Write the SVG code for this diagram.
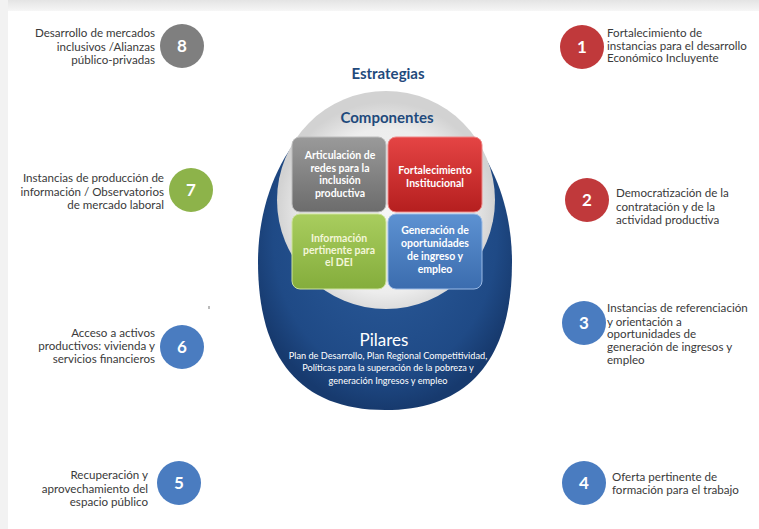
<svg xmlns="http://www.w3.org/2000/svg" width="759" height="529" viewBox="0 0 759 529">
<defs>
<style>
.lbl{font-family:Lato,"Liberation Sans",sans-serif;font-size:11.6px;fill:#3a3a3a}
.r{text-anchor:end}
.num{font-family:Lato,"Liberation Sans",sans-serif;font-weight:bold;font-size:17px;fill:#fff;text-anchor:middle}
.bx{font-family:Lato,"Liberation Sans",sans-serif;font-weight:bold;font-size:10.5px;fill:#fff;text-anchor:middle}
.hd{font-family:Lato,"Liberation Sans",sans-serif;font-weight:bold;font-size:15px;fill:#1f4a7c;text-anchor:middle}
.pl{font-family:Lato,"Liberation Sans",sans-serif;font-size:9.2px;fill:#fff;text-anchor:middle}
</style>
<linearGradient id="topband" x1="0" y1="0" x2="0" y2="1">
<stop offset="0" stop-color="#e4e4e4"/><stop offset="1" stop-color="#f6f6f6"/>
</linearGradient>
<radialGradient id="gBlue" cx="0.5" cy="0.45" r="0.55">
<stop offset="0" stop-color="#2c5c9c"/><stop offset="0.8" stop-color="#1f4a86"/><stop offset="1" stop-color="#173a6e"/>
</radialGradient>
<radialGradient id="gInner" cx="0.5" cy="0.55" r="0.5">
<stop offset="0" stop-color="#f6f6f6"/><stop offset="0.75" stop-color="#ededed"/><stop offset="1" stop-color="#d2d2d2"/>
</radialGradient>
<linearGradient id="gGray" x1="0" y1="0" x2="0" y2="1"><stop offset="0" stop-color="#9a9a9a"/><stop offset="1" stop-color="#6c6c6c"/></linearGradient>
<linearGradient id="gRed" x1="0" y1="0" x2="0" y2="1"><stop offset="0" stop-color="#e54444"/><stop offset="1" stop-color="#b51f1f"/></linearGradient>
<linearGradient id="gGreen" x1="0" y1="0" x2="0" y2="1"><stop offset="0" stop-color="#a9cd5e"/><stop offset="1" stop-color="#84ad3c"/></linearGradient>
<linearGradient id="gBlueBox" x1="0" y1="0" x2="0" y2="1"><stop offset="0" stop-color="#5d92d2"/><stop offset="1" stop-color="#3b6cae"/></linearGradient>
</defs>
<rect x="0" y="0" width="759" height="529" fill="#ffffff"/>
<rect x="0" y="0" width="759" height="11" fill="url(#topband)"/>
<rect x="0" y="0" width="8" height="529" fill="#f2f2f2"/>
<rect x="208" y="306" width="2" height="3" fill="#bbbbbb"/>

<g id="center">
<text class="hd" x="388" y="79">Estrategias</text>
<path d="M385,92 C455,92 512,168 512,262 C512,358 470,410 385,410 C300,410 258,358 258,262 C258,168 315,92 385,92 Z" fill="url(#gBlue)"/>
<circle cx="386" cy="200" r="109" fill="url(#gInner)"/>
<text class="hd" x="387" y="123">Componentes</text>
</g>

<g id="box-articulacion">
<rect x="292" y="137" width="94" height="75" rx="8" fill="url(#gGray)" stroke="#bdbdbd" stroke-width="1"/>
<text class="bx" x="340" y="159">Articulación de</text>
<text class="bx" x="340" y="171.5">redes para la</text>
<text class="bx" x="340" y="184">inclusión</text>
<text class="bx" x="340" y="196.5">productiva</text>
</g>
<g id="box-fortalecimiento">
<rect x="388" y="137" width="94" height="75" rx="8" fill="url(#gRed)" stroke="#e88" stroke-width="1"/>
<text class="bx" x="435" y="174">Fortalecimiento</text>
<text class="bx" x="435" y="187">Institucional</text>
</g>
<g id="box-informacion">
<rect x="292" y="214" width="94" height="75" rx="8" fill="url(#gGreen)" stroke="#cde39a" stroke-width="1"/>
<text class="bx" x="339" y="242" style="fill:#f3f6d8">Información</text>
<text class="bx" x="339" y="254" style="fill:#f3f6d8">pertinente para</text>
<text class="bx" x="339" y="266" style="fill:#f3f6d8">el DEI</text>
</g>
<g id="box-generacion">
<rect x="388" y="214" width="94" height="75" rx="8" fill="url(#gBlueBox)" stroke="#9bbbe6" stroke-width="1"/>
<text class="bx" x="435" y="234">Generación de</text>
<text class="bx" x="435" y="247">oportunidades</text>
<text class="bx" x="435" y="260">de ingreso y</text>
<text class="bx" x="435" y="273">empleo</text>
</g>

<g id="pilares">
<text x="384" y="346" style="font-family:Lato,'Liberation Sans',sans-serif;font-size:17px;fill:#fff;text-anchor:middle">Pilares</text>
<text class="pl" x="388" y="358.5">Plan de Desarrollo, Plan Regional Competitividad,</text>
<text class="pl" x="388" y="371">Políticas para la superación de la pobreza y</text>
<text class="pl" x="388" y="383.5">generación Ingresos y empleo</text>
</g>

<g id="item-8">
<circle cx="182" cy="46" r="22" fill="#7f7f7f"/>
<text class="num" x="182" y="52">8</text>
<text class="lbl r" x="155" y="37">Desarrollo de mercados</text>
<text class="lbl r" x="155" y="50.5">inclusivos /Alianzas</text>
<text class="lbl r" x="155" y="64">público-privadas</text>
</g>
<g id="item-1">
<circle cx="582" cy="47" r="22" fill="#c0393b"/>
<text class="num" x="582" y="53">1</text>
<text class="lbl" x="607" y="37">Fortalecimiento de</text>
<text class="lbl" x="607" y="49.5">instancias para el desarrollo</text>
<text class="lbl" x="607" y="62">Económico Incluyente</text>
</g>
<g id="item-7">
<circle cx="191" cy="190" r="22" fill="#8db34a"/>
<text class="num" x="191" y="196">7</text>
<text class="lbl r" x="164" y="182">Instancias de producción de</text>
<text class="lbl r" x="164" y="196">información / Observatorios</text>
<text class="lbl r" x="164" y="209">de mercado laboral</text>
</g>
<g id="item-2">
<circle cx="587" cy="200" r="22" fill="#c0393b"/>
<text class="num" x="587" y="206">2</text>
<text class="lbl" x="616" y="197">Democratización de la</text>
<text class="lbl" x="616" y="211">contratación y de la</text>
<text class="lbl" x="616" y="224">actividad productiva</text>
</g>
<g id="item-3">
<circle cx="584" cy="323" r="22" fill="#4a7cc0"/>
<text class="num" x="584" y="329">3</text>
<text class="lbl" x="607" y="312">Instancias de referenciación</text>
<text class="lbl" x="607" y="325.5">y orientación a</text>
<text class="lbl" x="607" y="338">oportunidades de</text>
<text class="lbl" x="607" y="351">generación de ingresos y</text>
<text class="lbl" x="607" y="364">empleo</text>
</g>
<g id="item-6">
<circle cx="182" cy="347" r="22" fill="#4a7cc0"/>
<text class="num" x="182" y="353">6</text>
<text class="lbl r" x="155" y="337">Acceso a activos</text>
<text class="lbl r" x="155" y="350">productivos: vivienda y</text>
<text class="lbl r" x="155" y="363">servicios financieros</text>
</g>
<g id="item-5">
<circle cx="179" cy="483" r="22" fill="#4a7cc0"/>
<text class="num" x="179" y="489">5</text>
<text class="lbl r" x="148" y="479">Recuperación y</text>
<text class="lbl r" x="148" y="492.5">aprovechamiento del</text>
<text class="lbl r" x="148" y="506">espacio público</text>
</g>
<g id="item-4">
<circle cx="584" cy="483" r="22" fill="#4a7cc0"/>
<text class="num" x="584" y="489">4</text>
<text class="lbl" x="612" y="481">Oferta pertinente de</text>
<text class="lbl" x="612" y="493.5">formación para el trabajo</text>
</g>
<g id="connectors"></g>
</svg>
